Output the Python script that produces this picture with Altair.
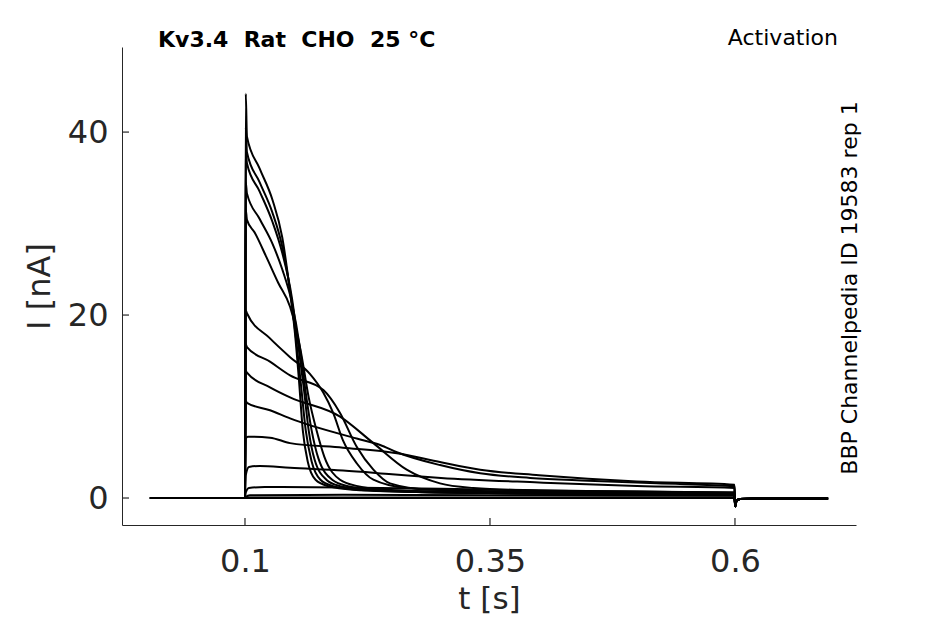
import altair as alt
import pandas as pd

# ---- data (t in s, I in nA) ----
T_PRE = [0.003, 0.1]
I_PRE = [0.0, 0.0]
T_TAIL = [0.6002, 0.6015, 0.605, 0.65, 0.695]
I_TAIL = [-0.9, -0.35, -0.12, -0.05, -0.05]

STEP_T = [
    [0.1008, 0.102, 0.115, 0.128, 0.138, 0.146, 0.151, 0.155, 0.159, 0.164, 0.172, 0.185, 0.21, 0.3, 0.45, 0.5995],
    [0.1008, 0.102, 0.115, 0.128, 0.138, 0.147, 0.152, 0.157, 0.162, 0.168, 0.177, 0.19, 0.215, 0.3, 0.45, 0.5995],
    [0.1008, 0.102, 0.115, 0.128, 0.138, 0.148, 0.154, 0.16, 0.165, 0.171, 0.183, 0.197, 0.225, 0.3, 0.45, 0.5995],
    [0.1008, 0.102, 0.115, 0.128, 0.138, 0.148, 0.156, 0.162, 0.168, 0.175, 0.189, 0.205, 0.235, 0.3, 0.45, 0.5995],
    [0.1008, 0.102, 0.11, 0.122, 0.134, 0.146, 0.157, 0.165, 0.173, 0.181, 0.197, 0.215, 0.245, 0.3, 0.45, 0.5995],
    [0.1008, 0.102, 0.125, 0.146, 0.166, 0.18, 0.19, 0.2, 0.214, 0.231, 0.265, 0.33, 0.45, 0.5995],
    [0.1008, 0.102, 0.1255, 0.146, 0.18, 0.197, 0.214, 0.231, 0.248, 0.289, 0.35, 0.45, 0.5995],
    [0.1008, 0.102, 0.1255, 0.146, 0.197, 0.231, 0.265, 0.299, 0.333, 0.4, 0.5995],
    [0.1008, 0.102, 0.1255, 0.146, 0.214, 0.238, 0.255, 0.299, 0.34, 0.391, 0.45, 0.52, 0.5995],
    [0.1008, 0.103, 0.1255, 0.146, 0.2, 0.255, 0.3, 0.34, 0.4, 0.45, 0.5, 0.5995],
    [0.1008, 0.104, 0.115, 0.146, 0.2, 0.25, 0.3, 0.4, 0.5, 0.5995],
    [0.1008, 0.104, 0.12, 0.2, 0.3, 0.4, 0.5, 0.5995],
    [0.1008, 0.105, 0.2, 0.4, 0.5995],
    [0.1008, 0.5995],
    [0.1008, 0.5995],
]
STEP_I = [
    [44.2, 39.5, 36.0, 32.6, 28.5, 22.5, 18.0, 13.0, 7.4, 4.0, 2.0, 1.3, 0.9, 0.6, 0.45, 0.4],
    [40.5, 37.8, 34.5, 31.2, 27.5, 22.0, 17.5, 12.5, 7.4, 4.0, 2.0, 1.3, 0.9, 0.6, 0.45, 0.4],
    [38.0, 36.6, 33.5, 30.2, 26.8, 21.8, 17.0, 12.0, 7.4, 4.2, 2.0, 1.3, 0.9, 0.6, 0.45, 0.4],
    [34.5, 33.3, 30.5, 27.8, 25.0, 21.3, 16.5, 11.5, 7.4, 4.3, 2.0, 1.3, 0.9, 0.65, 0.45, 0.4],
    [31.5, 30.4, 29.0, 26.3, 23.5, 20.9, 16.0, 11.0, 7.4, 4.5, 2.0, 1.3, 0.9, 0.7, 0.5, 0.4],
    [20.5, 20.2, 17.5, 15.4, 13.6, 11.5, 9.3, 6.3, 3.8, 2.0, 1.1, 0.8, 0.6, 0.5],
    [16.8, 16.5, 14.9, 13.4, 11.8, 9.3, 5.6, 3.1, 1.6, 0.9, 0.75, 0.65, 0.55],
    [13.9, 13.7, 12.1, 11.0, 8.9, 6.0, 3.1, 1.6, 1.1, 0.8, 0.6],
    [10.6, 10.4, 9.6, 8.7, 6.5, 5.8, 5.0, 3.6, 2.7, 2.2, 1.9, 1.6, 1.3],
    [6.5, 6.7, 6.6, 6.0, 5.5, 4.9, 3.9, 3.1, 2.5, 2.1, 1.8, 1.45],
    [2.5, 3.4, 3.5, 3.3, 3.0, 2.6, 2.2, 1.7, 1.3, 1.1],
    [0.6, 1.1, 1.2, 1.15, 1.0, 0.85, 0.7, 0.6],
    [0.1, 0.3, 0.35, 0.3, 0.25],
    [0.05, 0.05],
    [0.0, 0.0],
]

X_TICKS = [0.1, 0.35, 0.6]
Y_TICKS = [0, 20, 40]
X_DOMAIN = [-0.0255, 0.7235]
Y_DOMAIN = [-2.95, 49.3]

NB = "\u00a0"
TITLE = f"Kv3.4{NB}{NB}Rat{NB}{NB}CHO{NB}{NB}25{NB}°C"
RIGHT_TITLE = "Activation"
SIDE_TEXT = "BBP Channelpedia ID 19583 rep 1"

rows = []
for k, (ts, vs) in enumerate(zip(STEP_T, STEP_I)):
    t_all = T_PRE + ts + T_TAIL
    i_all = I_PRE + vs + I_TAIL
    for j, (t, v) in enumerate(zip(t_all, i_all)):
        rows.append({"trace": k, "t": t, "I": v, "o": j})
df = pd.DataFrame(rows)

W, H = 734, 478
AX = "#262626"
FONT = "DejaVu Sans"

xs = alt.Scale(domain=X_DOMAIN, nice=False, zero=False)
ys = alt.Scale(domain=Y_DOMAIN, nice=False, zero=False)

x_axis = alt.Axis(
    values=X_TICKS, format=".2~f", ticks=False, grid=False,
    domainColor=AX, domainWidth=1,
    labelFont=FONT, labelFontSize=32, labelColor=AX, labelPadding=21,
    title="t [s]", titleFont=FONT,
    titleFontSize=31, titleFontWeight="normal", titleColor=AX, titlePadding=7)
y_axis = alt.Axis(
    values=Y_TICKS, format="d", ticks=False, grid=False,
    domainColor=AX, domainWidth=1,
    labelFont=FONT, labelFontSize=32, labelColor=AX, labelPadding=14,
    title="I [nA]", titleFont=FONT, titleFontSize=32,
    titleFontWeight="normal", titleColor=AX, titlePadding=11)

lines = alt.Chart(df).mark_line(color="black", strokeWidth=2, clip=True,
                                interpolate="monotone").encode(
    x=alt.X("t:Q", scale=xs, axis=x_axis),
    y=alt.Y("I:Q", scale=ys, axis=y_axis),
    detail="trace:N",
    order="o:Q",
)

xt = alt.Chart(pd.DataFrame({"t": X_TICKS})).mark_rule(color=AX, strokeWidth=1.2).encode(
    x=alt.X("t:Q", scale=xs), y=alt.value(H), y2=alt.value(H - 7))
yt = alt.Chart(pd.DataFrame({"I": Y_TICKS})).mark_rule(color=AX, strokeWidth=1.2).encode(
    y=alt.Y("I:Q", scale=ys), x=alt.value(0), x2=alt.value(7))

title = alt.Chart(pd.DataFrame({"s": [TITLE]})).mark_text(
    font=FONT, fontWeight="bold", fontSize=22, align="left", baseline="middle", color="black"
).encode(x=alt.value(36), y=alt.value(-7), text="s:N")
rtitle = alt.Chart(pd.DataFrame({"s": [RIGHT_TITLE]})).mark_text(
    font=FONT, fontSize=22, align="right", baseline="middle", color="black"
).encode(x=alt.value(716), y=alt.value(-9), text="s:N")
side = alt.Chart(pd.DataFrame({"s": [SIDE_TEXT]})).mark_text(
    font=FONT, fontSize=22, align="center", baseline="middle", angle=270, color="black"
).encode(x=alt.value(728), y=alt.value(241), text="s:N")

chart = alt.layer(lines, xt, yt, title, rtitle, side).properties(
    width=W, height=H,
    autosize=alt.AutoSizeParams(type="none"),
    padding={"left": 114, "top": 39, "right": 80, "bottom": 90},
    background="white",
).configure_view(strokeWidth=0)

chart.save("out.html", embed_options={"renderer": "svg", "actions": False})
